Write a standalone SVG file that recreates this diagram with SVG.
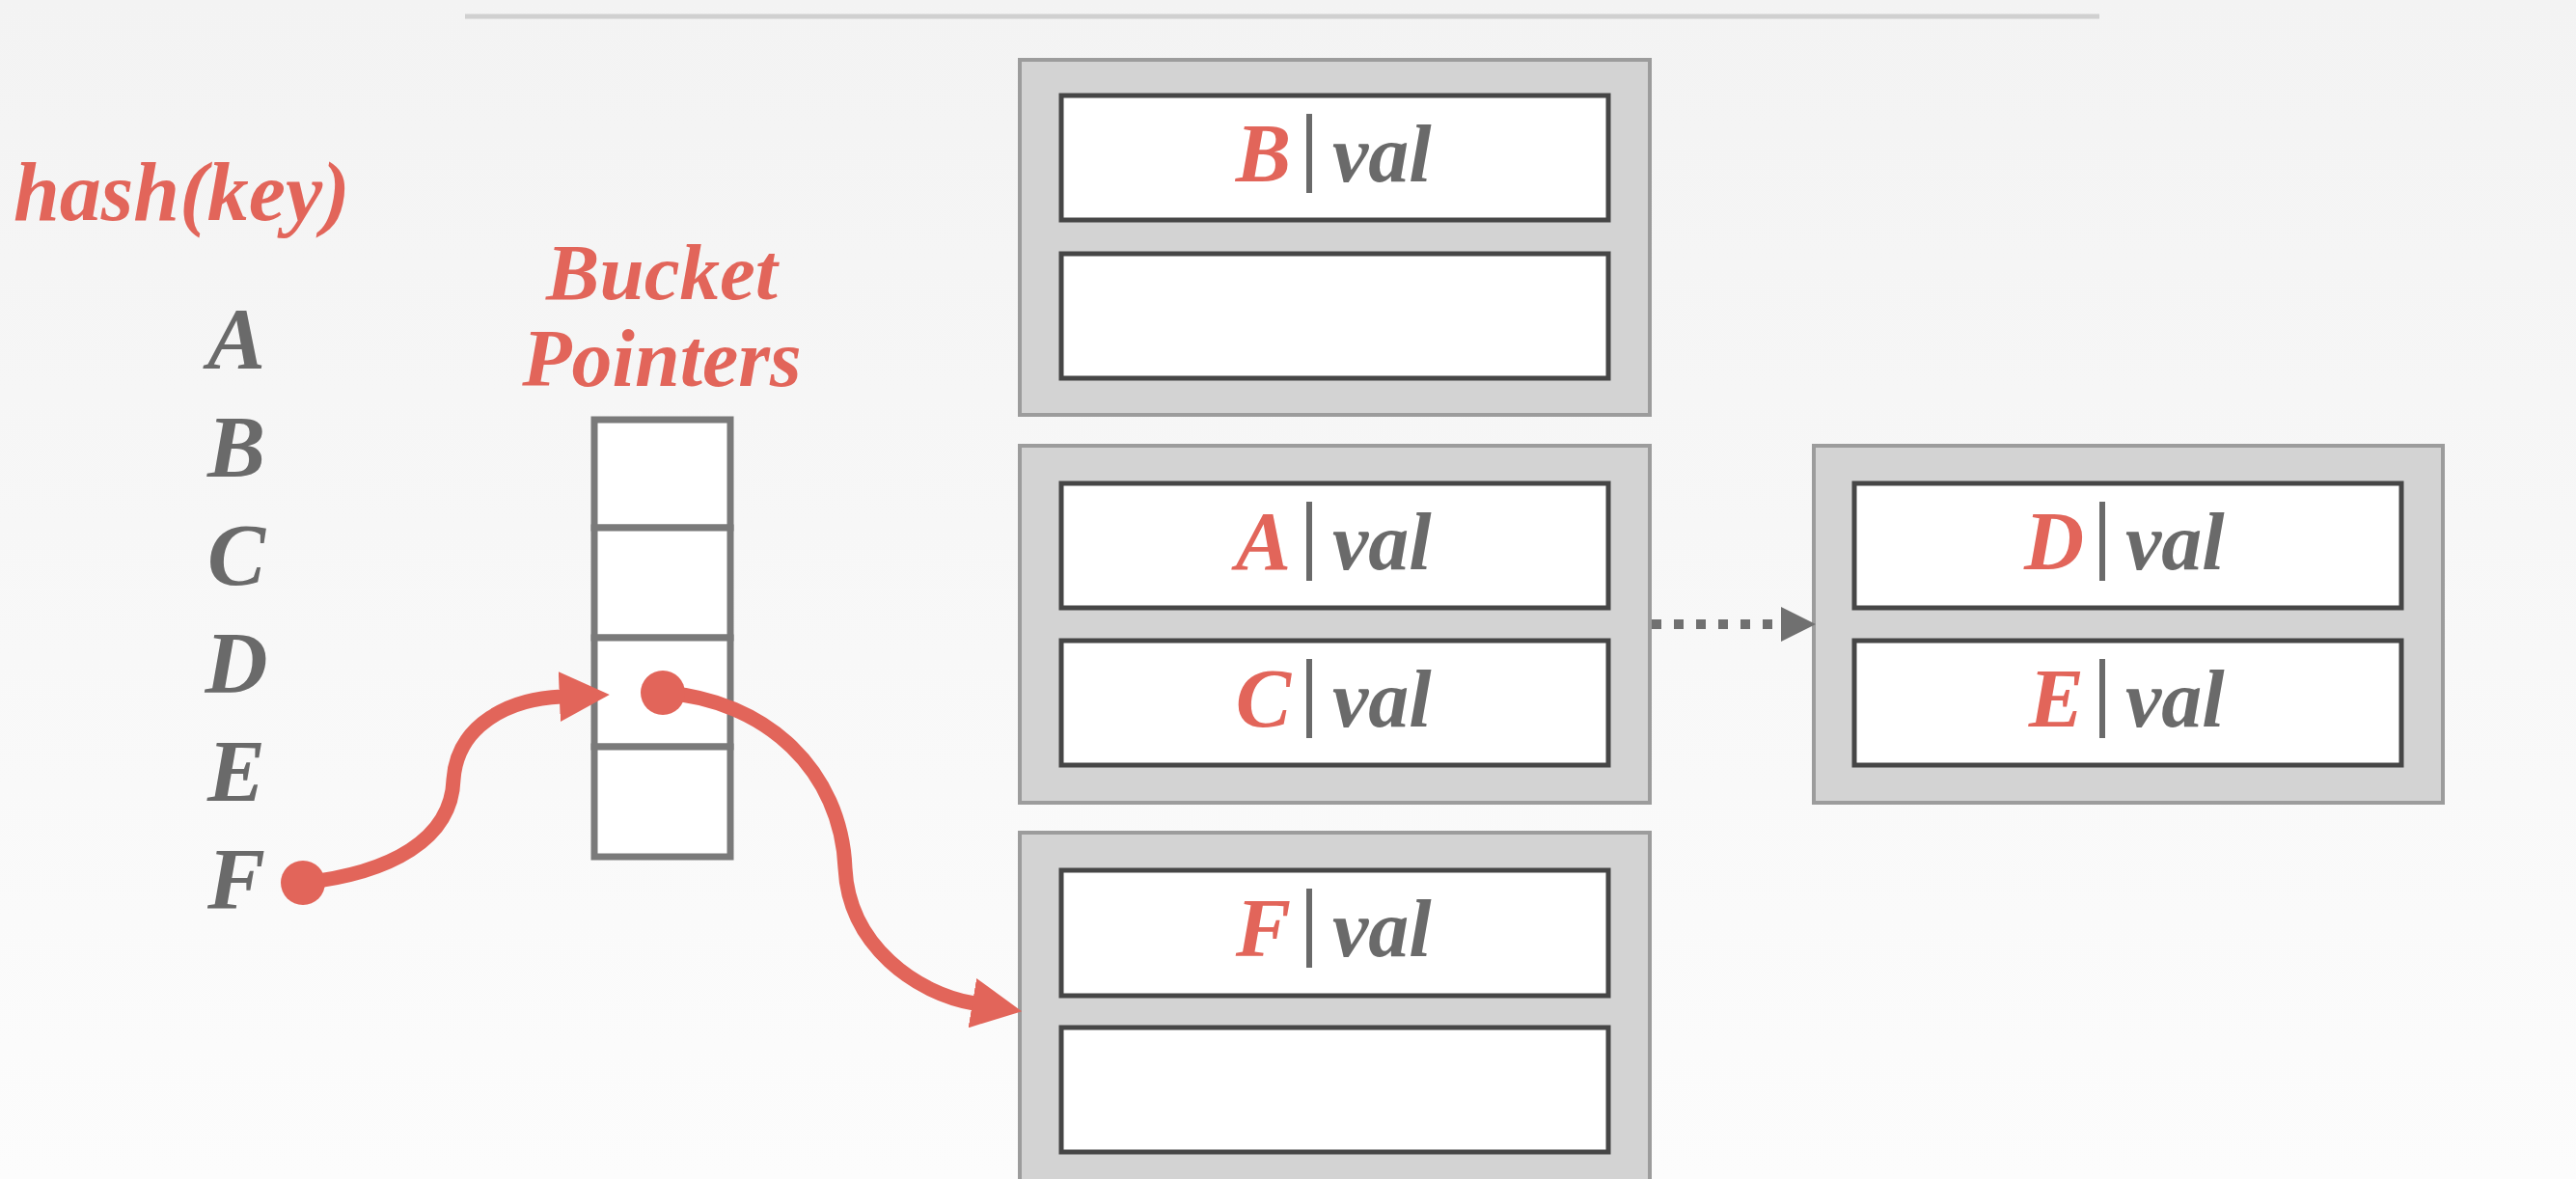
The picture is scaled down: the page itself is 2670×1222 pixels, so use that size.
<svg xmlns="http://www.w3.org/2000/svg" width="2670" height="1222" viewBox="0 0 2670 1222">
  <defs>
    <linearGradient id="bg" x1="0" y1="0" x2="0" y2="1">
      <stop offset="0" stop-color="#f3f3f3"/>
      <stop offset="1" stop-color="#fcfcfc"/>
    </linearGradient>
    <marker id="redHead" markerUnits="userSpaceOnUse" markerWidth="52" markerHeight="52" refX="2" refY="24" orient="auto" viewBox="0 0 48 48">
      <path d="M0,0 L48,24 L0,48 Z" fill="#e2655a"/>
    </marker>
    <marker id="grayHead" markerUnits="userSpaceOnUse" markerWidth="36" markerHeight="36" refX="0" refY="17" orient="auto" viewBox="0 0 34 34">
      <path d="M0,0 L34,17 L0,34 Z" fill="#707070"/>
    </marker>
    <style>
      .outer { fill: #d3d3d3; stroke: #9c9c9c; stroke-width: 4; }
      .inner { fill: #ffffff; stroke: #464646; stroke-width: 5; }
      .cell { fill: #ffffff; stroke: #7a7a7a; stroke-width: 7; }
      .red { fill: #e2655a; font-family: "Liberation Serif", serif; font-weight: bold; font-style: italic; }
      .gray { fill: #6a6a6a; font-family: "Liberation Serif", serif; font-weight: bold; font-style: italic; }
      .key { font-size: 86px; text-anchor: end; }
      .val { font-size: 84px; }
      .bar { stroke: #6a6a6a; stroke-width: 6; }
      .letter { font-size: 90px; text-anchor: middle; }
      .redline { fill: none; stroke: #e2655a; stroke-width: 15; }
    </style>
  </defs>

  <rect x="0" y="0" width="2670" height="1222" fill="url(#bg)"/>
  <line x1="482" y1="17" x2="2176" y2="17" stroke="#d0d0d0" stroke-width="5"/>

  <g id="hash-label">
    <text class="red" x="14" y="228" font-size="86">hash(key)</text>
  </g>

  <g id="keys">
    <text class="gray letter" x="245" y="382">A</text>
    <text class="gray letter" x="245" y="494">B</text>
    <text class="gray letter" x="245" y="606">C</text>
    <text class="gray letter" x="245" y="718">D</text>
    <text class="gray letter" x="245" y="830">E</text>
    <text class="gray letter" x="245" y="942">F</text>
  </g>

  <g id="bucket-pointers">
    <text class="red" x="686" y="310" font-size="83" text-anchor="middle">Bucket</text>
    <text class="red" x="686" y="400" font-size="84" text-anchor="middle">Pointers</text>
    <rect class="cell" x="616" y="435" width="141" height="112"/>
    <rect class="cell" x="616" y="547" width="141" height="114"/>
    <rect class="cell" x="616" y="661" width="141" height="113"/>
    <rect class="cell" x="616" y="774" width="141" height="114"/>
  </g>

  <g id="bucket-1">
    <rect class="outer" x="1057" y="62" width="653" height="368"/>
    <rect class="inner" x="1100" y="99" width="567" height="129"/>
    <rect class="inner" x="1100" y="263" width="567" height="129"/>
    <text class="red key" x="1338" y="188">B</text>
    <line class="bar" x1="1357" y1="118" x2="1357" y2="200"/>
    <text class="gray val" x="1381" y="188">val</text>
  </g>

  <g id="bucket-2">
    <rect class="outer" x="1057" y="462" width="653" height="370"/>
    <rect class="inner" x="1100" y="501" width="567" height="129"/>
    <rect class="inner" x="1100" y="664" width="567" height="129"/>
    <text class="red key" x="1338" y="590">A</text>
    <line class="bar" x1="1357" y1="520" x2="1357" y2="602"/>
    <text class="gray val" x="1381" y="590">val</text>
    <text class="red key" x="1338" y="753">C</text>
    <line class="bar" x1="1357" y1="683" x2="1357" y2="765"/>
    <text class="gray val" x="1381" y="753">val</text>
  </g>

  <g id="bucket-3">
    <rect class="outer" x="1057" y="863" width="653" height="380"/>
    <rect class="inner" x="1100" y="902" width="567" height="130"/>
    <rect class="inner" x="1100" y="1065" width="567" height="129"/>
    <text class="red key" x="1338" y="991">F</text>
    <line class="bar" x1="1357" y1="921" x2="1357" y2="1003"/>
    <text class="gray val" x="1381" y="991">val</text>
  </g>

  <g id="bucket-4">
    <rect class="outer" x="1880" y="462" width="652" height="370"/>
    <rect class="inner" x="1922" y="501" width="567" height="129"/>
    <rect class="inner" x="1922" y="664" width="567" height="129"/>
    <text class="red key" x="2160" y="590">D</text>
    <line class="bar" x1="2179" y1="520" x2="2179" y2="602"/>
    <text class="gray val" x="2203" y="590">val</text>
    <text class="red key" x="2160" y="753">E</text>
    <line class="bar" x1="2179" y1="683" x2="2179" y2="765"/>
    <text class="gray val" x="2203" y="753">val</text>
  </g>

  <g id="connectors">
    <path class="redline" d="M314,915 C405,905 468,870 470,808 C474,750 530,724 582,722" marker-end="url(#redHead)"/>
    <circle cx="314" cy="915" r="23" fill="#e2655a"/>
    <path class="redline" d="M687,718 C795,725 872,800 876,900 C880,980 950,1030 1010,1040" marker-end="url(#redHead)"/>
    <circle cx="687" cy="718" r="23" fill="#e2655a"/>
    <line x1="1712" y1="647" x2="1846" y2="647" stroke="#707070" stroke-width="10" stroke-dasharray="10 13" marker-end="url(#grayHead)"/>
  </g>
</svg>
